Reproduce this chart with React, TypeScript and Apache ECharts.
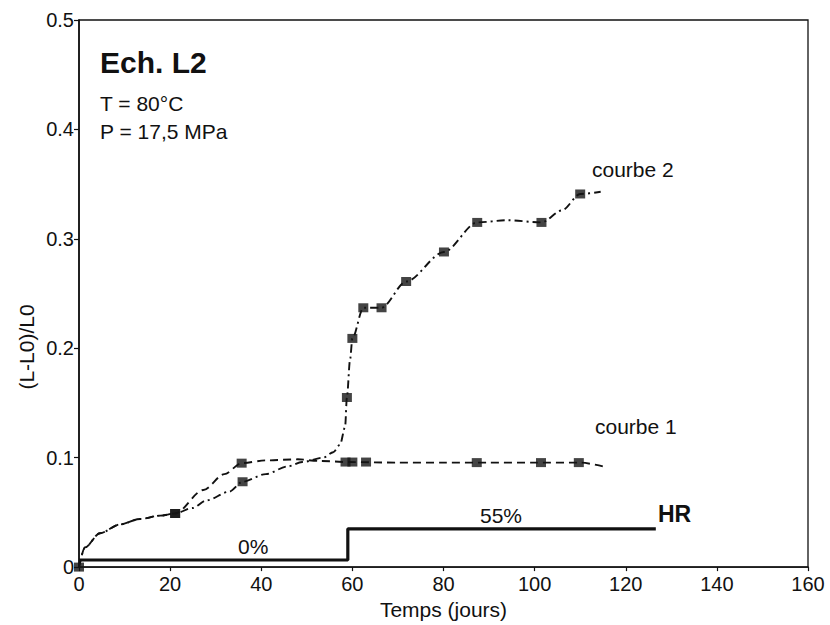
import React, { useEffect, useRef } from "react";
import * as echarts from "echarts";

// Tick labels
const xTicks = [0, 20, 40, 60, 80, 100, 120, 140, 160];
const yTicks = [0, 0.1, 0.2, 0.3, 0.4, 0.5];

// Courbe 1 (dashed) – traced curve
const curve1Days = [0, 1.3, 4.6, 9, 13.4, 17.8, 21.1, 27.3, 31.9, 35.7, 41, 48, 52.7, 59.3, 70, 80, 90, 100, 110, 115];
const curve1Values = [0, 0.018, 0.031, 0.039, 0.044, 0.047, 0.049, 0.0705, 0.085, 0.095, 0.0975, 0.0985, 0.097, 0.096, 0.0955, 0.0955, 0.0955, 0.0955, 0.0955, 0.092];

// Courbe 2 (dash-dot) – traced curve
const curve2Days = [0, 1.3, 4.6, 9, 13.4, 17.8, 21.1, 24.9, 28, 33, 35.9, 41, 45.8, 49, 53.6, 55.8, 57.3, 58.4, 58.8, 59.5, 60, 62.4, 66.4, 71.8, 80.1, 87.4, 94, 101.5, 106, 110, 114.5];
const curve2Values = [0, 0.018, 0.031, 0.039, 0.044, 0.047, 0.049, 0.054, 0.061, 0.069, 0.078, 0.085, 0.092, 0.096, 0.1, 0.105, 0.112, 0.128, 0.155, 0.19, 0.209, 0.237, 0.237, 0.261, 0.288, 0.315, 0.317, 0.315, 0.326, 0.341, 0.343];

// Measured points
const marks1Days = [0, 21.1, 35.7, 58.5, 60, 63, 87.3, 101.4, 109.7];
const marks1Values = [0, 0.049, 0.095, 0.096, 0.096, 0.096, 0.0955, 0.0955, 0.0955];
const marks2Days = [21.1, 35.9, 58.8, 60, 62.4, 66.4, 71.8, 80.1, 87.4, 101.5, 110];
const marks2Values = [0.049, 0.078, 0.155, 0.209, 0.237, 0.237, 0.261, 0.288, 0.315, 0.315, 0.341];

// Relative humidity (HR) step
const hrDays = [0, 59, 59, 126.6];
const hrValues = [0.0065, 0.0065, 0.035, 0.035];

const FONT = "Liberation Sans";

const zip = (a: number[], b: number[]) => a.map((v, i) => [v, b[i]]);

export default function App() {
  const ref = useRef<HTMLDivElement>(null);
  useEffect(() => {
    if (!ref.current) return;
    const chart = echarts.init(ref.current, null, { renderer: "svg" });
    const black = "#111";
    chart.setOption({
      animation: false,
      backgroundColor: "#fff",
      grid: {
        left: 79,
        right: 22,
        top: 20,
        bottom: 54,
        show: true,
        borderColor: "#111",
        borderWidth: 1.3,
      },
      xAxis: {
        type: "value",
        min: xTicks[0],
        max: xTicks[xTicks.length - 1],
        interval: 20,
        axisLine: { show: true, lineStyle: { color: black, width: 1.6 } },
        axisTick: { show: true, length: 4, lineStyle: { color: black, width: 1.2 } },
        splitLine: { show: false },
        axisLabel: { color: black, fontSize: 20, fontFamily: FONT, margin: 7 },
        name: "Temps (jours)",
        nameLocation: "middle",
        nameGap: 25,
        nameTextStyle: { color: black, fontSize: 21, fontFamily: FONT },
      },
      yAxis: {
        type: "value",
        min: yTicks[0],
        max: yTicks[yTicks.length - 1],
        interval: 0.1,
        axisLine: { show: true, lineStyle: { color: black, width: 1.6 } },
        axisTick: { show: true, length: 5, lineStyle: { color: black, width: 1.2 } },
        splitLine: { show: false },
        axisLabel: {
          color: black,
          fontSize: 20,
          fontFamily: FONT,
          margin: 5,
          formatter: (v: number) => (v === 0 ? "0" : v.toFixed(1)),
        },
      },
      series: [
        {
          type: "line",
          data: zip(curve1Days, curve1Values),
          showSymbol: false,
          smooth: 0.3,
          smoothMonotone: "x",
          lineStyle: { color: black, width: 1.9, type: [8, 5] },
          z: 2,
        },
        {
          type: "line",
          data: zip(curve2Days, curve2Values),
          showSymbol: false,
          smooth: 0.3,
          smoothMonotone: "x",
          lineStyle: { color: black, width: 1.9, type: [8, 4, 2, 4] },
          z: 2,
        },
        {
          type: "scatter",
          data: zip(marks1Days, marks1Values),
          symbol: "rect",
          symbolSize: [10, 9],
          itemStyle: { color: "#151515" },
          z: 3,
        },
        {
          type: "scatter",
          data: zip(marks2Days, marks2Values),
          symbol: "rect",
          symbolSize: [10, 9],
          itemStyle: { color: "#151515" },
          z: 3,
        },
        {
          type: "line",
          data: zip(hrDays, hrValues),
          showSymbol: false,
          lineStyle: { color: black, width: 3.2 },
          z: 2,
        },
      ],
      graphic: [
        {
          type: "text",
          x: 26,
          y: 347,
          rotation: Math.PI / 2,
          style: {
            text: "(L-L0)/L0",
            fontSize: 21,
            fontFamily: FONT,
            fill: black,
            textAlign: "center",
            textVerticalAlign: "middle",
          },
        },
        {
          type: "text",
          x: 100,
          y: 62,
          style: {
            text: "Ech. L2",
            fontSize: 30,
            fontWeight: "bold",
            fontFamily: FONT,
            fill: black,
            textAlign: "left",
            textVerticalAlign: "middle",
          },
        },
        {
          type: "text",
          x: 100,
          y: 103,
          style: { text: "T = 80°C", fontSize: 21, fontFamily: FONT, fill: black, textAlign: "left", textVerticalAlign: "middle" },
        },
        {
          type: "text",
          x: 100,
          y: 131,
          style: { text: "P = 17,5 MPa", fontSize: 21, fontFamily: FONT, fill: black, textAlign: "left", textVerticalAlign: "middle" },
        },
        {
          type: "text",
          x: 592,
          y: 169,
          style: { text: "courbe 2", fontSize: 21, fontFamily: FONT, fill: black, textAlign: "left", textVerticalAlign: "middle" },
        },
        {
          type: "text",
          x: 595,
          y: 426,
          style: { text: "courbe 1", fontSize: 21, fontFamily: FONT, fill: black, textAlign: "left", textVerticalAlign: "middle" },
        },
        {
          type: "text",
          x: 238,
          y: 546,
          style: { text: "0%", fontSize: 21, fontFamily: FONT, fill: black, textAlign: "left", textVerticalAlign: "middle" },
        },
        {
          type: "text",
          x: 480,
          y: 515,
          style: { text: "55%", fontSize: 21, fontFamily: FONT, fill: black, textAlign: "left", textVerticalAlign: "middle" },
        },
        {
          type: "text",
          x: 658,
          y: 514,
          style: { text: "HR", fontSize: 23, fontWeight: "bold", fontFamily: FONT, fill: black, textAlign: "left", textVerticalAlign: "middle" },
        },
      ],
    });
    return () => chart.dispose();
  }, []);
  return (
    <div
      ref={ref}
      style={{ position: "absolute", left: 0, top: 0, width: 830, height: 625, background: "#fff" }}
    />
  );
}
